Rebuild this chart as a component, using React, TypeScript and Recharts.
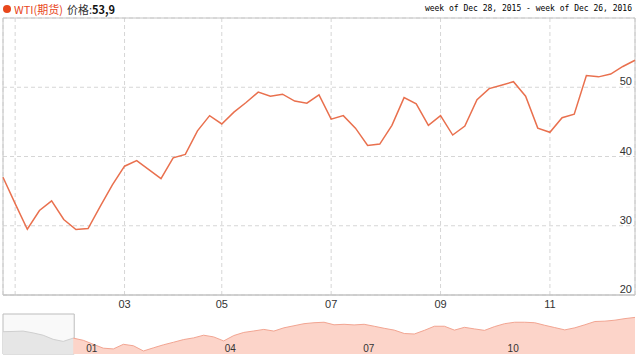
import React from "react";
import {
  Area,
  AreaChart,
  CartesianGrid,
  Line,
  LineChart,
  ReferenceArea,
  XAxis,
  YAxis,
} from "recharts";

// weekly close, week of Dec 28 2015 .. week of Dec 26 2016
const weeklyClose = [
  37.0, 33.2, 29.5, 32.2, 33.6, 30.9, 29.45, 29.6, 32.8, 35.9, 38.6, 39.4, 38.1,
  36.8, 39.8, 40.3, 43.7, 45.9, 44.7, 46.4, 47.8, 49.3, 48.7, 49.0, 48.0, 47.7,
  48.9, 45.4, 45.9, 44.1, 41.6, 41.8, 44.5, 48.5, 47.6, 44.5, 45.9, 43.1, 44.4,
  48.2, 49.8, 50.3, 50.8, 48.7, 44.1, 43.5, 45.6, 46.1, 51.7, 51.5, 51.9, 53.0,
  53.9,
];
const monthTicks = [1, 10, 18, 27, 36, 45];
const monthLabels = ["", "03", "05", "07", "09", "11"];
const priceTicks = [20, 30, 40, 50];

// navigator series (longer history, Nov 2015 .. Dec 2016)
const navValues = [
  42.1, 42.3, 42.6, 41.1, 39.2, 35.8, 34.1, 36.8, 35.0, 31.7, 28.5, 27.9, 31.7,
  30.5, 26.2, 28.8, 31.3, 33.4, 35.6, 37.0, 39.2, 37.8, 34.5, 38.9, 41.5, 42.7,
  44.0, 42.6, 45.3, 47.0, 48.7, 49.5, 49.9, 47.8, 48.2, 47.7, 48.2, 46.6, 44.9,
  43.4, 40.6, 40.2, 43.2, 46.6, 46.6, 43.4, 45.7, 44.4, 43.2, 46.3, 48.7, 49.9,
  49.9, 49.5, 47.4, 45.5, 43.6, 45.3, 47.8, 50.5, 50.8, 51.6, 52.9, 53.9,
];
const navSplit = 7;
const navTicks = [8, 21.8, 35.6, 50];
const navLabels = ["01", "04", "07", "10"];

const mainData = weeklyClose.map((v, i) => ({ i, v }));
const navData = navValues.map((v, i) => ({
  i,
  before: i <= navSplit ? v : null,
  after: i >= navSplit ? v : null,
}));

const LINE = "#e9704e";

const MonthTick = (props: any) => {
  const { x, y, payload } = props;
  const idx = monthTicks.indexOf(payload.value);
  return (
    <text x={x} y={y + 13} textAnchor="middle" fontSize={11} fill="#333">
      {monthLabels[idx]}
    </text>
  );
};

const PriceTick = (props: any) => {
  const { y, payload } = props;
  return (
    <text x={632} y={y - 2} textAnchor="end" fontSize={11} fill="#333">
      {payload.value}
    </text>
  );
};

const NavTick = (props: any) => {
  const { x, payload } = props;
  const idx = navTicks.indexOf(payload.value);
  return (
    <text x={x + 3} y={42} textAnchor="start" fontSize={10} fill="#333">
      {navLabels[idx]}
    </text>
  );
};

export default function App() {
  return (
    <div
      style={{
        position: "absolute",
        left: 0,
        top: 0,
        width: 640,
        height: 360,
        background: "#fff",
        fontFamily: "Arial, 'Liberation Sans', sans-serif",
      }}
    >
      <div
        style={{
          position: "absolute",
          left: 3,
          top: 5,
          width: 8,
          height: 8,
          borderRadius: 4,
          background: "#e8471c",
        }}
      />
      <div
        style={{
          position: "absolute",
          left: 14,
          top: 1,
          fontSize: 11,
          lineHeight: "16px",
          fontFamily: "'Noto Sans CJK SC', sans-serif",
          whiteSpace: "nowrap",
        }}
      >
        <span style={{ color: "#e8471c" }}>WTI(期货)</span>
        <span style={{ color: "#333", marginLeft: 4 }}>价格:</span>
        <span style={{ color: "#111", fontWeight: "bold" }}>53,9</span>
      </div>
      <div
        style={{
          position: "absolute",
          right: 8,
          top: 2,
          fontSize: 8,
          lineHeight: "14px",
          color: "#000",
          fontFamily: "'DejaVu Sans Mono', monospace",
          whiteSpace: "nowrap",
        }}
      >
        week of Dec 28, 2015 - week of Dec 26, 2016
      </div>

      <div style={{ position: "absolute", left: 0, top: 0 }}>
        <LineChart
          width={640}
          height={312}
          data={mainData}
          margin={{ top: 18, right: 4, left: 3, bottom: 0 }}
        >
          <CartesianGrid stroke="#d6d6d6" strokeDasharray="4 3" />
          <ReferenceArea
            x1={0}
            x2={52}
            y1={20}
            y2={60}
            fill="none"
            stroke="#c4c4c4"
            ifOverflow="visible"
          />
          <XAxis
            dataKey="i"
            type="number"
            domain={[0, 52]}
            ticks={monthTicks}
            interval={0}
            height={17}
            tickSize={0}
            tickMargin={0}
            tick={<MonthTick />}
            axisLine={{ stroke: "#c4c4c4" }}
            tickLine={false}
          />
          <YAxis
            orientation="right"
            width={1}
            domain={[20, 60]}
            ticks={priceTicks}
            interval={0}
            tickSize={0}
            tickMargin={0}
            tick={<PriceTick />}
            axisLine={false}
            tickLine={false}
          />
          <Line
            type="linear"
            dataKey="v"
            stroke={LINE}
            strokeWidth={1.5}
            dot={false}
            isAnimationActive={false}
          />
        </LineChart>
      </div>

      <div style={{ position: "absolute", left: 0, top: 310 }}>
        <AreaChart
          width={640}
          height={46}
          data={navData}
          margin={{ top: 4, right: 5, left: 3, bottom: 0 }}
        >
          <ReferenceArea
            x1={0}
            x2={navSplit + 0.1}
            y1={23.7}
            y2={56.7}
            fill="#f4f4f4"
            stroke="#bdbdbd"
            ifOverflow="visible"
          />
          <XAxis
            dataKey="i"
            type="number"
            domain={[0, 63]}
            ticks={navTicks}
            interval={0}
            height={2}
            tickSize={0}
            tickMargin={0}
            tick={<NavTick />}
            axisLine={false}
            tickLine={false}
          />
          <YAxis hide domain={[23.7, 56.7]} />
          <Area
            type="linear"
            dataKey="before"
            stroke="#cfcfcf"
            fill="#e6e6e6"
            fillOpacity={1}
            strokeWidth={1}
            isAnimationActive={false}
            connectNulls={false}
          />
          <Area
            type="linear"
            dataKey="after"
            stroke="#f2a592"
            fill="#fcd4c9"
            fillOpacity={1}
            strokeWidth={1}
            isAnimationActive={false}
            connectNulls={false}
          />
        </AreaChart>
      </div>
    </div>
  );
}
